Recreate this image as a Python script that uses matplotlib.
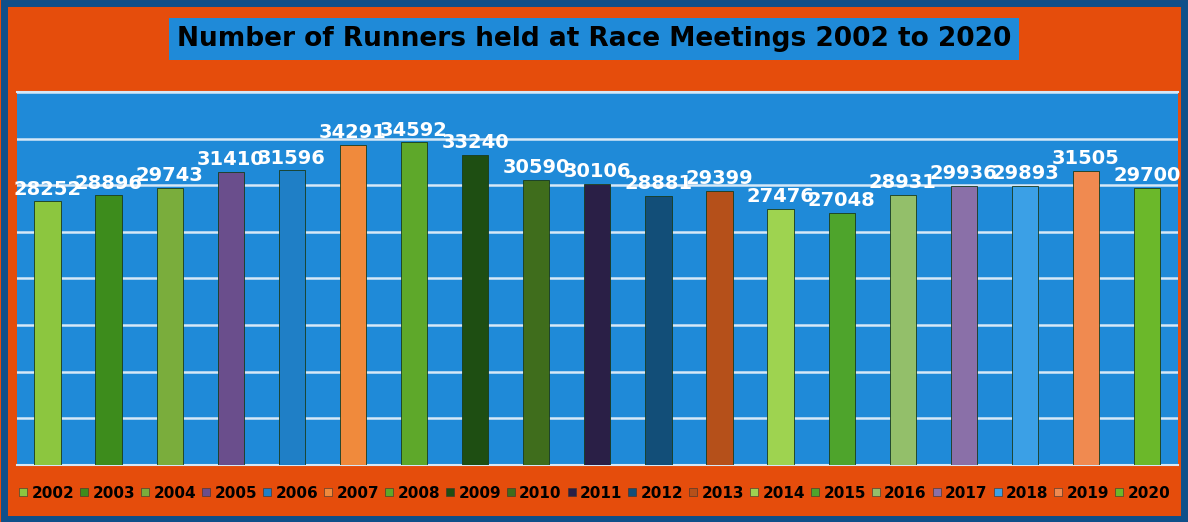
import matplotlib.pyplot as plt
from matplotlib.lines import Line2D
from matplotlib.patches import Rectangle

years = ['2002', '2003', '2004', '2005', '2006', '2007', '2008', '2009', '2010', '2011',
         '2012', '2013', '2014', '2015', '2016', '2017', '2018', '2019', '2020']
runners = [28252, 28896, 29743, 31410, 31596, 34291, 34592, 33240, 30590, 30106,
           28881, 29399, 27476, 27048, 28931, 29936, 29893, 31505, 29700]
colores = ['#8cc63f', '#3d8c1c', '#7aad3c', '#6a4e8c', '#1f7fc6', '#f08a3c', '#5ea82a',
           '#1e4e12', '#3f6d1c', '#2a1f46', '#124e78', '#b5501a', '#9ed350', '#4ea42c',
           '#93bf6a', '#8a70a8', '#3ba0e6', '#f08a50', '#6bb82a']

naranja = '#e54d0c'
azul = '#1f8ad8'

fig = plt.figure(figsize=(11.88, 5.22), dpi=100, facecolor=naranja)
# borde azul oscuro
fig.patches.append(Rectangle((0.003, 0.005), 0.994, 0.99, transform=fig.transFigure,
                             fill=False, edgecolor='#0e4f8a', linewidth=5, zorder=0))

ax = fig.add_axes([0.0143, 0.109, 0.977, 0.715])
ax.set_facecolor(azul)
x = range(len(years))
barras = ax.bar(x, runners, width=0.43, color=colores, edgecolor='#1a3a1a', linewidth=0.6, zorder=3)
ax.bar_label(barras, labels=[str(v) for v in runners], padding=2, color='white',
             fontsize=14, fontweight='bold', zorder=4)

ax.set_ylim(0, 40000)
ax.set_xlim(-0.5, len(years) - 0.5)
ax.set_yticks(range(0, 40001, 5000))
ax.grid(axis='y', color='#d6e8f7', linewidth=1.8, zorder=1)
ax.tick_params(left=False, bottom=False, labelleft=False, labelbottom=False)
for lado in ['left', 'right']:
    ax.spines[lado].set_visible(False)
ax.spines['top'].set_color('#d6e8f7')
ax.spines['bottom'].set_color('#d6e8f7')
ax.spines['top'].set_linewidth(1.5)
ax.spines['bottom'].set_linewidth(1.5)

fig.text(0.5, 0.926, 'Number of Runners held at Race Meetings 2002 to 2020', ha='center', va='center',
         fontsize=19, fontweight='bold', color='black',
         bbox=dict(boxstyle='square,pad=0.3', facecolor=azul, edgecolor='none'))

handles = [Line2D([], [], marker='s', linestyle='', markersize=5.5, markerfacecolor=c,
                  markeredgecolor='#333333', markeredgewidth=0.4) for c in colores]
leg = fig.legend(handles, years, loc='center', bbox_to_anchor=(0.5, 0.055), ncol=19,
                 frameon=False, handletextpad=0.2, columnspacing=0.3, handlelength=0.7,
                 prop={'weight': 'bold', 'size': 11})

fig.savefig('out.png', dpi=100, facecolor=naranja)
